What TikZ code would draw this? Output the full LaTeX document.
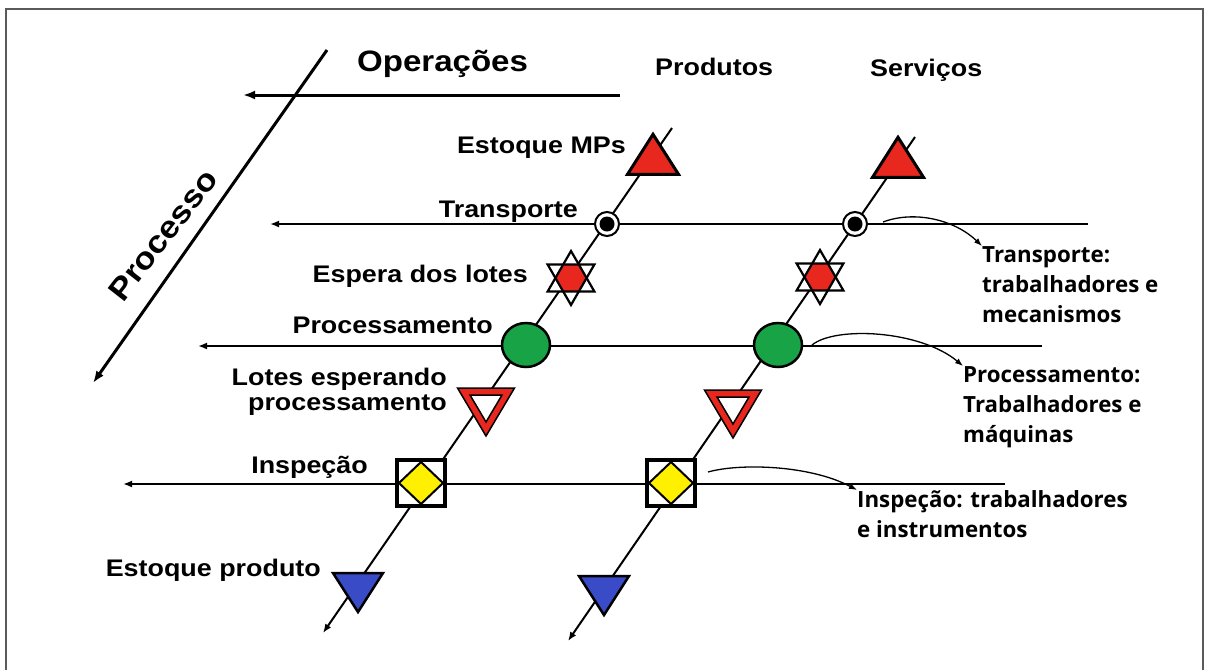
\documentclass[tikz,border=0pt]{standalone}
\usepackage{fontspec}
\setmainfont{Liberation Sans}[FakeStretch=1.12]
\newfontfamily\rfont{Open Sans}
\usetikzlibrary{arrows.meta}
\definecolor{myred}{HTML}{E8281E}
\definecolor{mygreen}{HTML}{19A347}
\definecolor{myyellow}{HTML}{FFF000}
\definecolor{myblue}{HTML}{3A4BC8}
\definecolor{framegray}{HTML}{5A5A5A}
\tikzset{
  lbl/.style={inner sep=0pt, font=\fontsize{24}{25}\selectfont\bfseries},
  rlbl/.style={inner sep=0pt, anchor=north west, align=left, font=\rfont\fontsize{22.3}{30}\selectfont\bfseries},
  flow/.style={line width=2pt, -{Latex[length=9pt,width=7pt]}},
  axisarrow/.style={line width=3pt, -{Latex[length=12pt,width=9pt]}},
  callout/.style={line width=1.3pt, -{Latex[length=8pt,width=6pt]}},
  stockup/.pic={\draw[line width=3pt, fill=myred, line join=miter] (-25.5,13.3) -- (25.5,13.3) -- (0,-26.7) -- cycle;},
  transp/.pic={\draw[line width=2pt, fill=white] (0,0) circle[radius=12pt]; \fill (0,0) circle[radius=7.5pt];},
  hexa/.pic={
    \fill[white] (90:27) -- (210:27) -- (330:27) -- cycle;
    \fill[white] (270:27) -- (30:27) -- (150:27) -- cycle;
    \fill[myred] (0:15.6) -- (60:15.6) -- (120:15.6) -- (180:15.6) -- (240:15.6) -- (300:15.6) -- cycle;
    \draw[line width=2.2pt, line join=miter] (90:27) -- (210:27) -- (330:27) -- cycle;
    \draw[line width=2.2pt, line join=miter] (270:27) -- (30:27) -- (150:27) -- cycle;},
  procc/.pic={\draw[line width=2.5pt, fill=mygreen] (0,0) ellipse[x radius=24pt, y radius=22pt];},
  yieldtri/.pic={
    \draw[line width=1.5pt, fill=myred, line join=miter] (-28.5,-16) -- (28.5,-16) -- (0,32) -- cycle;
    \draw[line width=1.5pt, fill=white, line join=miter] (-16,-9) -- (16,-9) -- (0,18) -- cycle;},
  inspbox/.pic={
    \draw[line width=3.5pt, fill=white, line join=miter] (-24,-23) rectangle (24,23);
    \draw[line width=2pt, fill=myyellow, line join=miter] (-22,0) -- (0,-21) -- (22,0) -- (0,21) -- cycle;},
  stockdown/.pic={\draw[line width=2.5pt, fill=myblue, line join=miter] (-25,-13) -- (25,-13) -- (0,26) -- cycle;},
}
\begin{document}
\begin{tikzpicture}[x=1pt,y=-1pt]
\useasboundingbox (0,0) rectangle (1209,670);
% frame
\draw[framegray, line width=2pt] (6,670) -- (6,9) -- (1203,9) -- (1203,670);

% coordinates
\coordinate (procTop) at (327,50);
\coordinate (procEnd) at (93,383);
\coordinate (opStart) at (620,95);
\coordinate (opEnd) at (243,95);
\coordinate (trStart) at (1088,224);
\coordinate (trEnd) at (270,224);
\coordinate (pcStart) at (1042,346);
\coordinate (pcEnd) at (198,346);
\coordinate (inStart) at (1005,484);
\coordinate (inEnd) at (123,484);
\coordinate (prodTop) at (672,128);
\coordinate (prodEnd) at (323,633);
\coordinate (servTop) at (915,137);
\coordinate (servEnd) at (568,641);

% axes
\draw[axisarrow] (procTop) -- (procEnd);
\draw[axisarrow] (opStart) -- (opEnd);

% horizontal flows
\draw[flow] (trStart) -- (trEnd);
\draw[flow] (pcStart) -- (pcEnd);
\draw[flow] (inStart) -- (inEnd);

% diagonals
\draw[flow] (prodTop) -- (prodEnd);
\draw[flow] (servTop) -- (servEnd);

% symbols: Produtos
\pic at (653,161) {stockup};
\pic at (607,224) {transp};
\pic at (571,278) {hexa};
\pic at (526,345) {procc};
\pic at (486,404) {yieldtri};
\pic at (421,483) {inspbox};
\pic at (358,586) {stockdown};
% symbols: Servicos
\pic at (898,164) {stockup};
\pic at (855,224) {transp};
\pic at (820,277) {hexa};
\pic at (778,345) {procc};
\pic at (733,406) {yieldtri};
\pic at (671,483) {inspbox};
\pic at (604,589) {stockdown};

% labels
\node[lbl, anchor=base west, font=\fontsize{29.5}{30}\selectfont\bfseries] (oper) at (357,71) {Operações};
\node[lbl, font=\fontsize{31}{32}\selectfont\bfseries, rotate=52] (proc) at (163,235) {Processo};
\node[lbl, anchor=base west] (produtos) at (655,75) {Produtos};
\node[lbl, anchor=base west] (servicos) at (870,76) {Serviços};
\node[lbl, anchor=base east] (estmp) at (626,153) {Estoque MPs};
\node[lbl, anchor=base east] (transl) at (578,217) {Transporte};
\node[lbl, anchor=base east] (espera) at (528,282) {Espera dos lotes};
\node[lbl, anchor=base east] (procl) at (493,333) {Processamento};
\node[lbl, anchor=north east, align=right] (lotes) at (447,368) {Lotes esperando\\processamento};
\node[lbl, anchor=base east] (inspl) at (368,473) {Inspeção};
\node[lbl, anchor=base east] (estprod) at (321,576) {Estoque produto};

% right-hand notes
\node[rlbl] (ntrans) at (982,246) {Transporte:\\trabalhadores e\\mecanismos};
\node[rlbl] (nproc) at (963,366) {Processamento:\\Trabalhadores e\\máquinas};
\node[rlbl] (ninsp) at (857,490) {Inspeção: trabalhadores\\e instrumentos};

% callout arrows
\coordinate (c1s) at (883,222);
\coordinate (c2s) at (812,345);
\coordinate (c3s) at (708,472);
\draw[callout] (c1s) .. controls (915,210) and (955,220) .. (ntrans.north west);
\draw[callout] (c2s) .. controls (835,326) and (920,330) .. (nproc.north west);
\draw[callout] (c3s) .. controls (740,463) and (810,465) .. (ninsp.north west);
\end{tikzpicture}
\end{document}
